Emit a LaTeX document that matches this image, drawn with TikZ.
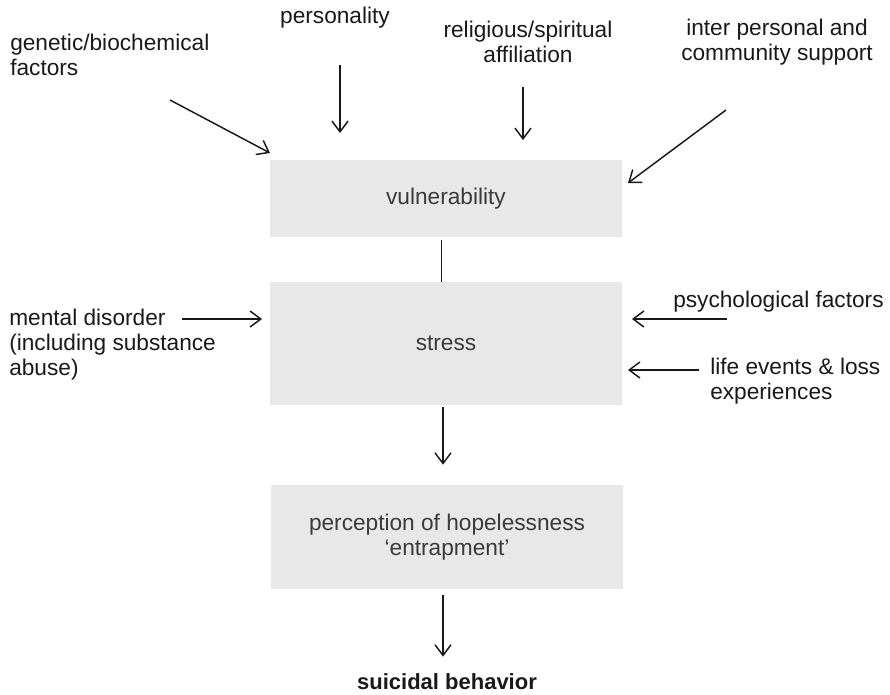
\documentclass[tikz,border=0pt]{standalone}
\usepackage{fontspec}
\setmainfont{Liberation Sans}
\usetikzlibrary{arrows.meta}
\definecolor{boxgray}{RGB}{232,232,232}
\definecolor{txtgray}{RGB}{58,58,58}
\definecolor{inkblack}{RGB}{25,25,25}

\tikzset{
  factor/.style={inner sep=0.75pt, text=inkblack, font=\fontsize{17}{18.75}\selectfont},
  stage/.style={fill=boxgray, minimum width=264pt, inner sep=0pt, text=txtgray, align=center, font=\fontsize{17}{18.75}\selectfont},
  arr/.style={-{Straight Barb[length=8pt,width=12pt]}, line width=1.1pt, color=inkblack},
}

\begin{document}
\begin{tikzpicture}[x=0.75pt,y=0.75pt,yscale=-1,xscale=1]
\path[use as bounding box] (0,0) rectangle (890,694);

%Shape: Boxes
\node [stage, minimum height=57.75pt] (vul) at (446,198.5) {vulnerability};
\node [stage, minimum height=92.25pt] (stress) at (446,343.5) {stress};
\node [stage, minimum height=78pt] (perc) at (447,537) {perception of hopelessness\\`entrapment'};

% Text Node
\node [factor, anchor=west, align=left] (gen) at (9,55) {genetic/biochemical\\factors};
% Text Node
\node [factor] (pers) at (335,18) {personality};
% Text Node
\node [factor, align=center] (relig) at (528,42) {religious/spiritual\\affiliation};
% Text Node
\node [factor, align=center] (inter) at (777,42) {inter personal and\\community support};
% Text Node
\node [factor, anchor=west, align=left] (mental) at (8,345) {mental disorder\\(including substance\\abuse)};
% Text Node
\node [factor, anchor=west] (psych) at (672,302) {psychological factors};
% Text Node
\node [factor, anchor=west, align=left] (life) at (709,381) {life events \& loss\\experiences};
% Text Node
\node [factor, font=\fontsize{16.5}{18.75}\selectfont\bfseries] (sb) at (447,682) {suicidal behavior};

%Arrow ends
\coordinate (genTail) at (170,100);
\coordinate (genHead) at (270,153);
\coordinate (persTail) at (340,65);
\coordinate (persHead) at (340,133);
\coordinate (religTail) at (523,87);
\coordinate (religHead) at (523,140);
\coordinate (interTail) at (726,110);
\coordinate (interHead) at (628,183);
\coordinate (mentalTail) at (182,319);
\coordinate (mentalHead) at (262,319);
\coordinate (psychTail) at (727,319);
\coordinate (psychHead) at (632,319);
\coordinate (lifeTail) at (699,370);
\coordinate (lifeHead) at (628,370);
\coordinate (vulOut) at ([xshift=-3.4pt]vul.south);
\coordinate (stressOut) at ([xshift=-2.25pt]stress.south);
\coordinate (percOut) at ([xshift=-3pt]perc.south);

%Straight Lines
\draw [arr] (genTail) -- (genHead);
\draw [arr] (persTail) -- (persHead);
\draw [arr] (religTail) -- (religHead);
\draw [arr] (interTail) -- (interHead);
\draw [arr] (mentalTail) -- (mentalHead);
\draw [arr] (psychTail) -- (psychHead);
\draw [arr] (lifeTail) -- (lifeHead);

%Straight Lines
\draw [line width=1.1pt, color=inkblack, shorten <=2pt] (vulOut) -- (vulOut |- stress.north);
\draw [arr, shorten <=1.5pt, shorten >=15pt] (stressOut) -- (stressOut |- perc.north);
\draw [arr, shorten <=4.5pt, shorten >=12pt] (percOut) -- (percOut |- sb.north);

\end{tikzpicture}
\end{document}
